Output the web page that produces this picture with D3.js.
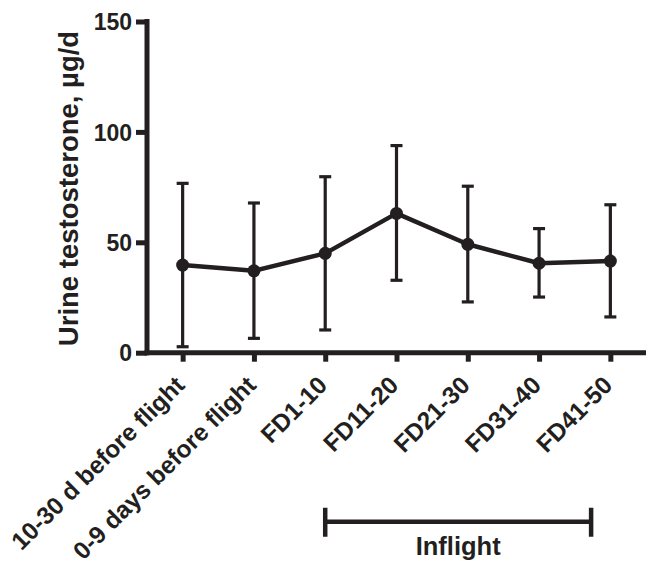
<!DOCTYPE html>
<html lang="en">
<head>
  <meta charset="utf-8" />
  <title>Urine testosterone</title>
  <style>
    body { margin: 0; background: #fff; }
    svg { font-family: "Liberation Sans", Arial, sans-serif; font-weight: bold; }
    .axis path, .axis line { stroke: #231f20; stroke-width: 5px; }
    .axis text { fill: #231f20; font-family: "Liberation Sans", Arial, sans-serif; font-size: 23px; font-weight: bold; }
  </style>
</head>
<body>
<script src="https://cdn.jsdelivr.net/npm/d3@7"></script>
<script>
  const categories = ["10-30 d before flight", "0-9 days before flight", "FD1-10", "FD11-20", "FD21-30", "FD31-40", "FD41-50"];
  const means = [39.7, 37.1, 45.0, 63.1, 49.1, 40.5, 41.5];
  const upper = [76.7, 67.8, 79.7, 93.8, 75.4, 56.2, 67.0];
  const lower = [2.7, 6.5, 10.3, 32.8, 23.0, 25.2, 16.2];
  const yTicks = [0, 50, 100, 150];
  const inflight = [2, 5.73]; // bracket span in category index units

  const width = 646, height = 563;
  const mLeft = 147, mRight = 646, mTop = 21.5, mBottom = 352.7;
  const ink = "#231f20";

  const svg = d3.select("body").append("svg")
    .attr("width", width)
    .attr("height", height);

  const x = d3.scalePoint().domain(categories).range([mLeft, mRight]).padding(0.5);
  const idx = d3.scaleLinear().domain([0, categories.length - 1])
    .range([x(categories[0]), x(categories[categories.length - 1])]);
  const y = d3.scaleLinear().domain([0, 150]).range([mBottom, mTop]);

  // y axis
  const yAxis = svg.append("g").attr("class", "axis")
    .attr("transform", `translate(${mLeft},0)`)
    .call(d3.axisLeft(y).tickValues(yTicks).tickSize(11).tickPadding(4).tickSizeOuter(0));
  yAxis.select(".domain").attr("d", `M0,${mTop - 2.5}V${mBottom + 2.5}`);
  yAxis.selectAll("text").attr("dy", "0.36em");

  // x axis
  const xAxis = svg.append("g").attr("class", "axis")
    .attr("transform", `translate(0,${mBottom})`)
    .call(d3.axisBottom(x).tickSize(9).tickSizeOuter(0));
  xAxis.select(".domain").attr("d", `M${mLeft - 2.5},0H${mRight}`);
  xAxis.selectAll("text")
    .style("font-size", "24.5px")
    .attr("text-anchor", "end")
    .attr("dy", null).attr("y", 0)
    .attr("transform", "translate(3,34) rotate(-45)");

  // y label
  svg.append("text")
    .attr("transform", `translate(78,${(30 + 347) / 2}) rotate(-90)`)
    .attr("text-anchor", "middle")
    .attr("fill", ink)
    .style("font-size", "27.5px")
    .text("Urine testosterone, µg/d");

  const g = svg.append("g");

  // error bars
  categories.forEach((c, i) => {
    const cx = x(c);
    g.append("line").attr("x1", cx).attr("x2", cx).attr("y1", y(upper[i])).attr("y2", y(lower[i]))
      .attr("stroke", ink).attr("stroke-width", 3.2);
    [upper[i], lower[i]].forEach(v => {
      g.append("line").attr("x1", cx - 6).attr("x2", cx + 6).attr("y1", y(v)).attr("y2", y(v))
        .attr("stroke", ink).attr("stroke-width", 3.2);
    });
  });

  // mean line
  g.append("path")
    .datum(means)
    .attr("fill", "none")
    .attr("stroke", ink)
    .attr("stroke-width", 4.5)
    .attr("stroke-linejoin", "round")
    .attr("d", d3.line().x((d, i) => x(categories[i])).y(d => y(d)));

  g.selectAll("circle").data(means).join("circle")
    .attr("cx", (d, i) => x(categories[i]))
    .attr("cy", d => y(d))
    .attr("r", 6.5)
    .attr("fill", ink);

  // inflight bracket
  const by = 521.7;
  const x0 = idx(inflight[0]), x1 = idx(inflight[1]);
  g.append("path")
    .attr("d", `M${x0},${by}H${x1}M${x0},${by - 14}V${by + 15}M${x1},${by - 14}V${by + 15}`)
    .attr("fill", "none")
    .attr("stroke", ink)
    .attr("stroke-width", 4.5);
  svg.append("text")
    .attr("x", (x0 + x1) / 2)
    .attr("y", 555)
    .attr("text-anchor", "middle")
    .attr("fill", ink)
    .style("font-size", "25.5px")
    .text("Inflight");
</script>
</body>
</html>
